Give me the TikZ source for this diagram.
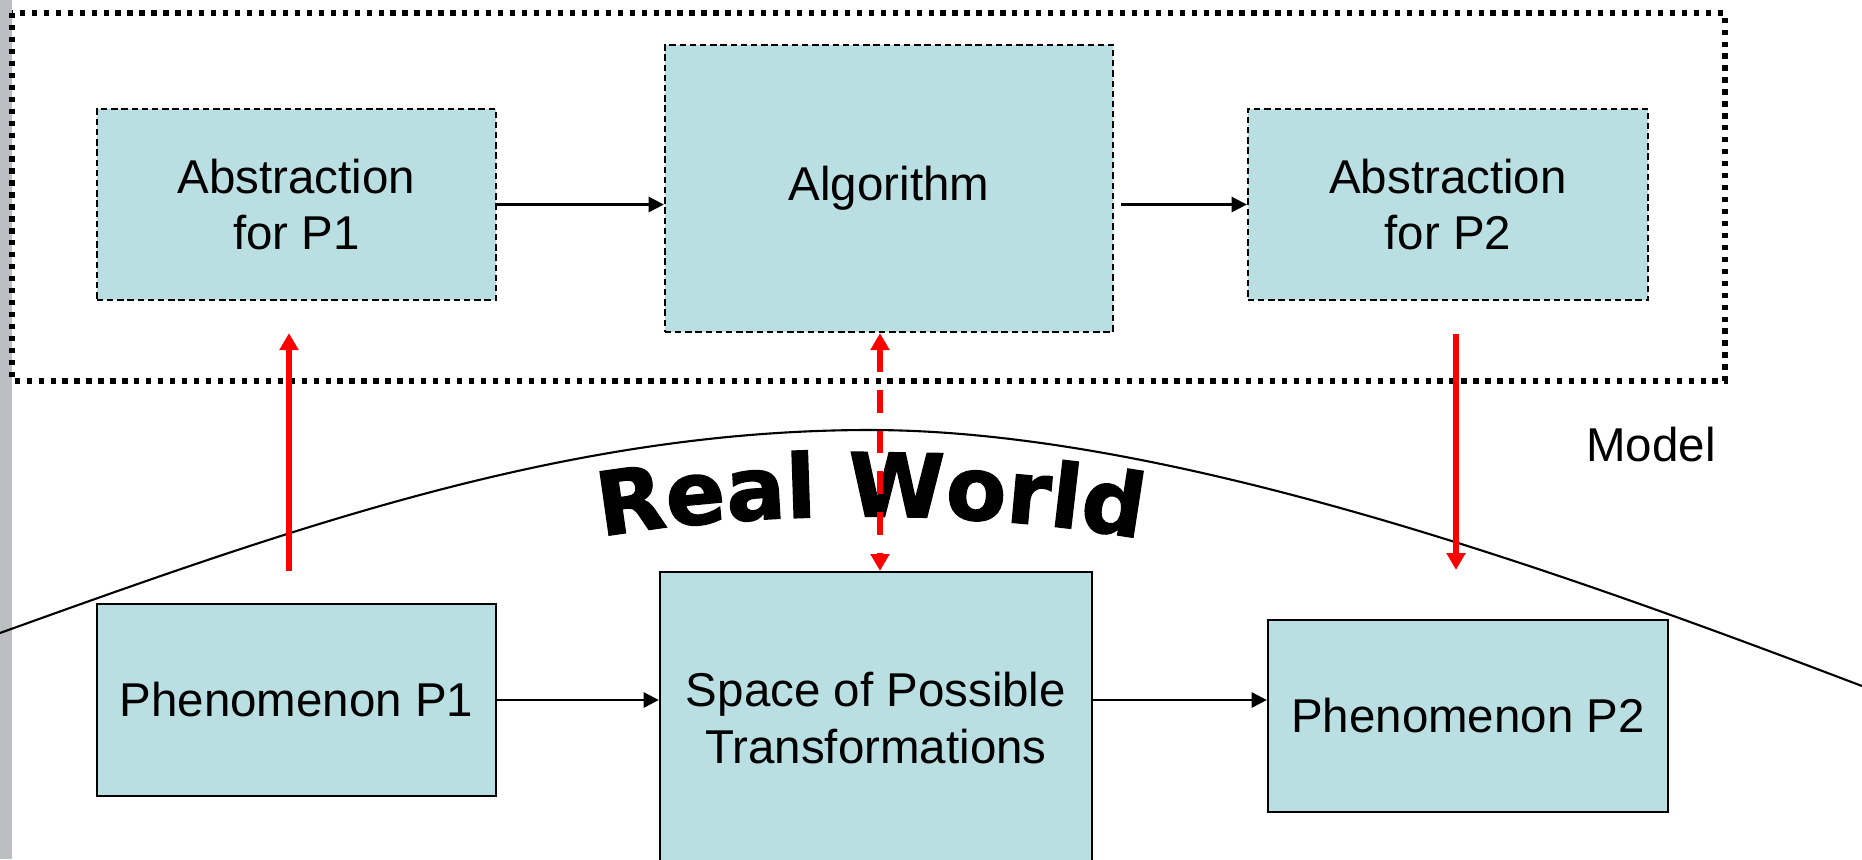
\documentclass[tikz,border=0pt]{standalone}
\usepackage{fontspec}
\setmainfont{Liberation Sans}
\newfontfamily\rwfont{DejaVu Sans Bold}[FakeBold=1.6]
\usepackage{tikz}
\usetikzlibrary{arrows.meta,positioning,decorations.text}
\definecolor{boxfill}{RGB}{185,223,226}
\definecolor{sidebar}{RGB}{189,190,194}

\begin{document}
\begin{tikzpicture}[x=0.01cm, y=-0.01cm,
    every node/.style={font=\fontsize{13.5}{16.2}\selectfont},
    modelbox/.style={draw, line width=0.6pt, dash pattern=on 1.8pt off 1.1pt, fill=boxfill, align=center, inner sep=0pt},
    worldbox/.style={draw, line width=0.6pt, fill=boxfill, align=center, inner sep=0pt},
    flow/.style={-{Triangle[length=4.3pt,width=4.3pt]}, line width=0.6pt},
    link/.style={red, line width=1.5pt, -{Triangle[length=4.8pt,width=5.2pt]}},
    twoway/.style={link, {Triangle[length=4.8pt,width=5.2pt]}-{Triangle[length=4.8pt,width=5.2pt]}, dash pattern=on 6.5pt off 5.1pt}]
        \useasboundingbox (0,0) rectangle (1862,859);
        \clip (0,0) rectangle (1862,859);
        \fill[sidebar] (0,0) rectangle (12,859);

        % Model frame
        \draw[line width=1.5pt, dash pattern=on 1.5pt off 1.9pt] (12,13) rectangle (1725,381);
        \node (model) at (1651,445) {Model};

        % Border between model and real world
        \draw[line width=0.6pt] (0,633) .. controls (300,525) and (570,430) .. (870,430)
            .. controls (1170,430) and (1562,572) .. (1862,686);
        \begin{scope}[x=1cm, y=-1cm]
            \path[decorate, decoration={text along path, text align=center,
                text={|\rwfont\fontsize{25}{30}\selectfont|Real World}}]
                (5.2,5.545) .. controls (7,5.03) and (10.4,5.03) .. (12.2,5.577);
        \end{scope}

        % Abstractions
        \node[modelbox, minimum width=3.99cm, minimum height=1.91cm] (abs1) at (296.5,204.5) {Abstraction\\for P1};
        \node[modelbox, minimum width=4.48cm, minimum height=2.87cm] (algo) at (889,188.5) {Algorithm};
        \node[modelbox, minimum width=4cm, minimum height=1.91cm] (abs2) at (1448,204.5) {Abstraction\\for P2};
        \draw[flow] (abs1.east) -- (abs1.east -| algo.west);
        \draw[flow, shorten <=0.07cm] (algo.east |- abs2.west) -- (abs2.west);

        % Phenomena
        \node[worldbox, minimum width=3.99cm, minimum height=1.92cm] (phen1) at (296.5,700) {Phenomenon P1};
        \node[worldbox, minimum width=4.32cm, minimum height=2.92cm] (space) at (876,718) {Space of Possible\\Transformations};
        \node[worldbox, minimum width=4cm, minimum height=1.92cm] (phen2) at (1468,716) {Phenomenon P2};
        \draw[flow] (phen1.east) -- (phen1.east -| space.west);
        \draw[flow] (phen1.east -| space.east) -- (phen1.east -| phen2.west);

        % Mapping between the two
        \draw[link, shorten <=0.32cm, shorten >=0.32cm] ([xshift=-0.075cm]phen1.north) -- ([xshift=-0.075cm]abs1.south);
        \draw[twoway] ([xshift=-0.09cm]algo.south) -- ([xshift=-0.09cm]algo.south |- space.north);
        \draw[link, shorten <=0.33cm, shorten >=0.49cm] ([xshift=0.08cm]abs2.south) -- ([xshift=0.08cm]abs2.south |- phen2.north);
    \end{tikzpicture}
\end{document}
